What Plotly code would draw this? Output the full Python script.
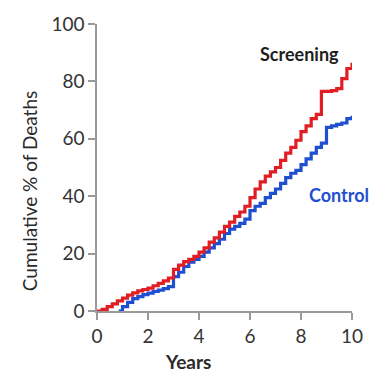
import plotly.graph_objects as go

years_s = [0, 0.2, 0.4, 0.6, 0.8, 1.0, 1.2, 1.4, 1.6, 1.8, 2.0, 2.2, 2.4, 2.6, 2.8, 3.0,
           3.2, 3.4, 3.6, 3.8, 4.0, 4.2, 4.4, 4.6, 4.8, 5.0, 5.2, 5.4, 5.6, 5.8, 6.0,
           6.2, 6.4, 6.6, 6.8, 7.0, 7.2, 7.4, 7.6, 7.8, 8.0, 8.2, 8.4, 8.6, 8.8, 9.0,
           9.2, 9.4, 9.6, 9.8, 10.0]
screening = [0, 0.6, 1.5, 2.5, 3.5, 4.5, 5.5, 6.3, 7.0, 7.5, 8.0, 8.8, 9.6, 10.5, 11.5, 14.5,
             16.0, 17.2, 18.0, 19.0, 20.5, 22.0, 24.0, 25.5, 27.5, 29.5, 31.0, 33.0, 34.5, 36.5, 39.5,
             42.5, 45.0, 47.0, 48.5, 50.0, 52.5, 55.0, 57.0, 59.5, 62.5, 64.5, 67.0, 68.5, 76.5, 76.5,
             76.8, 77.5, 81.0, 84.5, 86.5]

years_c = [0.85, 1.0, 1.2, 1.4, 1.6, 1.8, 2.0, 2.2, 2.4, 2.6, 2.8, 3.0,
           3.2, 3.4, 3.6, 3.8, 4.0, 4.2, 4.4, 4.6, 4.8, 5.0, 5.2, 5.4, 5.6, 5.8, 6.0,
           6.2, 6.4, 6.6, 6.8, 7.0, 7.2, 7.4, 7.6, 7.8, 8.0, 8.2, 8.4, 8.6, 8.8, 9.0,
           9.2, 9.4, 9.6, 9.8, 10.0]
control = [0, 1.5, 3.0, 4.3, 5.0, 5.7, 6.2, 6.8, 7.3, 7.8, 8.5, 12.0,
           13.5, 15.5, 17.0, 18.0, 19.0, 20.5, 22.0, 23.5, 25.0, 27.0, 28.5, 29.5, 30.5, 32.0, 35.0,
           36.5, 37.5, 39.5, 41.0, 42.5, 44.5, 46.5, 48.0, 49.0, 51.0, 53.0, 55.0, 57.0, 58.5, 64.0,
           64.5, 65.0, 65.5, 67.0, 68.0]

x_ticks = [0, 2, 4, 6, 8, 10]
y_ticks = [0, 20, 40, 60, 80, 100]

fig = go.Figure()
fig.add_trace(go.Scatter(x=years_c, y=control, mode="lines", line_shape="hv",
                         line=dict(color="#1f4fd0", width=3.2), name="Control"))
fig.add_trace(go.Scatter(x=years_s, y=screening, mode="lines", line_shape="hv",
                         line=dict(color="#e01e24", width=3.2), name="Screening"))

font = "Lato, 'Open Sans', sans-serif"
axis_common = dict(showline=True, linecolor="#9a9a9a", linewidth=1.5, ticks="outside",
                   ticklen=7, tickcolor="#9a9a9a", tickwidth=1.5, showgrid=False,
                   zeroline=False, tickfont=dict(family=font, size=19, color="#333333"))
fig.update_xaxes(range=[0, 10], tickvals=x_ticks, **axis_common)
fig.update_yaxes(range=[0, 100], tickvals=y_ticks, **axis_common)

fig.update_layout(
    width=375, height=378, margin=dict(l=97, r=17, t=20, b=67),
    paper_bgcolor="white", plot_bgcolor="white", showlegend=False,
    annotations=[
        dict(text="Cumulative % of Deaths", xref="paper", yref="paper", x=-0.265, y=0.419,
             xanchor="center", yanchor="middle",
             textangle=-90, showarrow=False, font=dict(family=font, size=19, color="#2a2a2a")),
        dict(text="<b>Years</b>", xref="paper", yref="paper", x=0.356, y=-0.175,
             xanchor="center", yanchor="middle",
             showarrow=False, font=dict(family=font, size=19, color="#2a2a2a")),
        dict(text="<b>Screening</b>", xref="x", yref="y", x=7.95, y=89.5,
             xanchor="center", yanchor="middle",
             showarrow=False, font=dict(family=font, size=18, color="#1e1e1e")),
        dict(text="<b>Control</b>", xref="x", yref="y", x=9.5, y=40.5,
             xanchor="center", yanchor="middle",
             showarrow=False, font=dict(family=font, size=18, color="#1f4fd0")),
    ],
)
fig.write_html("out.html")
